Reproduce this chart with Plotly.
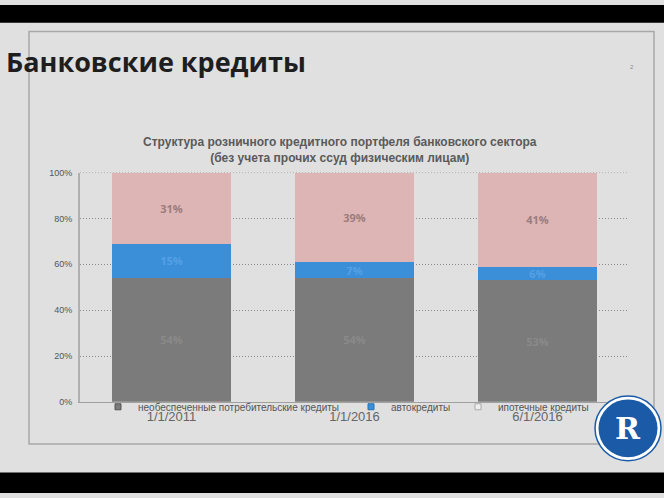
import plotly.graph_objects as go

categories = ["1/1/2011", "1/1/2016", "6/1/2016"]
unsecured = [54, 54, 53]
auto = [15, 7, 6]
mortgage = [31, 39, 41]
series_names = ["необеспеченные потребительские кредиты", "автокредиты", "ипотечные кредиты"]
y_ticks = [0, 20, 40, 60, 80, 100]
y_tick_labels = ["0%", "20%", "40%", "60%", "80%", "100%"]

W, H = 664, 498
def px(x):
    return x / W
def py(y):
    return 1 - y / H

fig = go.Figure()
colors = ["#7b7b7b", "#3a8fd8", "#ddb5b5"]
text_colors = ["#8a8a8a", "#55a0e4", "#9c7c7c"]
legend_marker = [("#7b7b7b", "#555"), ("#3a8fd8", "#2a70b0"), ("#eeeeee", "#aaaaaa")]
legend_ids = ["legend", "legend2", "legend3"]
for name, vals, c, tc, lm, lid in zip(series_names, [unsecured, auto, mortgage], colors,
                                      text_colors, legend_marker, legend_ids):
    fig.add_trace(go.Bar(
        x=categories, y=vals, name=name, showlegend=False,
        marker=dict(color=c, line=dict(width=0)),
        text=[f"<b>{v}%</b>" for v in vals], textposition="inside",
        insidetextanchor="middle", constraintext="none",
        textfont=dict(family="Open Sans", size=11, color=tc),
        width=0.645,
    ))
    fig.add_trace(go.Scatter(
        x=[None], y=[None], mode="markers", name=name, legend=lid, showlegend=True,
        marker=dict(symbol="square", size=6, color=lm[0], line=dict(color=lm[1], width=1)),
    ))

fig.add_shape(type="line", xref="paper", yref="y", x0=px(80), x1=px(629), y0=100, y1=100,
              line=dict(color="#8a8a8a", width=1, dash="1px,2px"), layer="below")

shapes = [
    dict(type="rect", xref="paper", yref="paper", x0=0, x1=1, y0=py(0), y1=py(18),
         fillcolor="black", line=dict(width=0), layer="above"),
    dict(type="rect", xref="paper", yref="paper", x0=0, x1=1, y0=py(477), y1=0,
         fillcolor="black", line=dict(width=0), layer="above"),
    dict(type="rect", xref="paper", yref="paper", x0=px(29), x1=px(654), y0=py(27), y1=py(448),
         fillcolor="rgba(0,0,0,0)", line=dict(color="#a8a8a8", width=1.5), layer="below"),
    dict(type="circle", xref="paper", yref="paper", x0=px(595), x1=px(661), y0=py(399), y1=py(465),
         fillcolor="white", line=dict(color="#1b5aa7", width=1.5), layer="above"),
    dict(type="circle", xref="paper", yref="paper", x0=px(598.5), x1=px(657.5), y0=py(402.5), y1=py(461.5),
         fillcolor="#1b5aa7", line=dict(color="#1b5aa7", width=0), layer="above"),
]
for s in shapes:
    fig.add_shape(**s)

annotations = [
    dict(text="<b>Банковские кредиты</b>", xref="paper", yref="paper", x=px(4), y=py(58),
         xanchor="left", yanchor="middle", showarrow=False,
         font=dict(family="Open Sans", size=27, color="#1e1e1e")),
    dict(text="2", xref="paper", yref="paper", x=px(636), y=py(58), showarrow=False,
         font=dict(family="Liberation Sans", size=6, color="#888")),
    dict(text="<b>Структура розничного кредитного портфеля банковского сектора</b><br><b>(без учета прочих ссуд физическим лицам)</b>",
         xref="paper", yref="paper", x=px(340), y=py(148), showarrow=False,
         xanchor="center", yanchor="middle",
         font=dict(family="Liberation Sans", size=12, color="#5a5a5a")),
    dict(text="<b>R</b>", xref="paper", yref="paper", x=px(628), y=py(432), showarrow=False,
         xanchor="center", yanchor="middle",
         font=dict(family="DejaVu Serif", size=30, color="white")),
]
for a in annotations:
    fig.add_annotation(**a)

legend_font = dict(family="Liberation Sans", size=10, color="#555")
def leg(xpix):
    return dict(orientation="h", x=px(xpix), xanchor="left", y=py(410), yanchor="middle",
                bgcolor="rgba(0,0,0,0)", font=legend_font, itemwidth=30)

fig.update_layout(
    width=W, height=H, margin=dict(l=0, r=0, t=0, b=0),
    paper_bgcolor="#e0e0e0", plot_bgcolor="#e0e0e0",
    barmode="stack",
    showlegend=True,
    legend=leg(98), legend2=leg(351), legend3=leg(458),
    xaxis=dict(domain=[px(80), px(629)], showgrid=False, showline=True, linecolor="#a0a0a0",
               linewidth=1, ticks="", ticklabelstandoff=3,
               tickfont=dict(family="Liberation Sans", size=13, color="#666"),
               fixedrange=True),
    yaxis=dict(domain=[py(405), py(171)], range=[0, 100], tickvals=y_ticks, ticktext=y_tick_labels,
               showgrid=True, gridcolor="#8a8a8a", griddash="1px,2px", gridwidth=1,
               showline=True, linecolor="#b0b0b0", linewidth=2, zeroline=False,
               ticks="", ticklabelstandoff=4,
               tickfont=dict(family="Liberation Sans", size=9, color="#555")),
)

fig.write_html("out.html")
